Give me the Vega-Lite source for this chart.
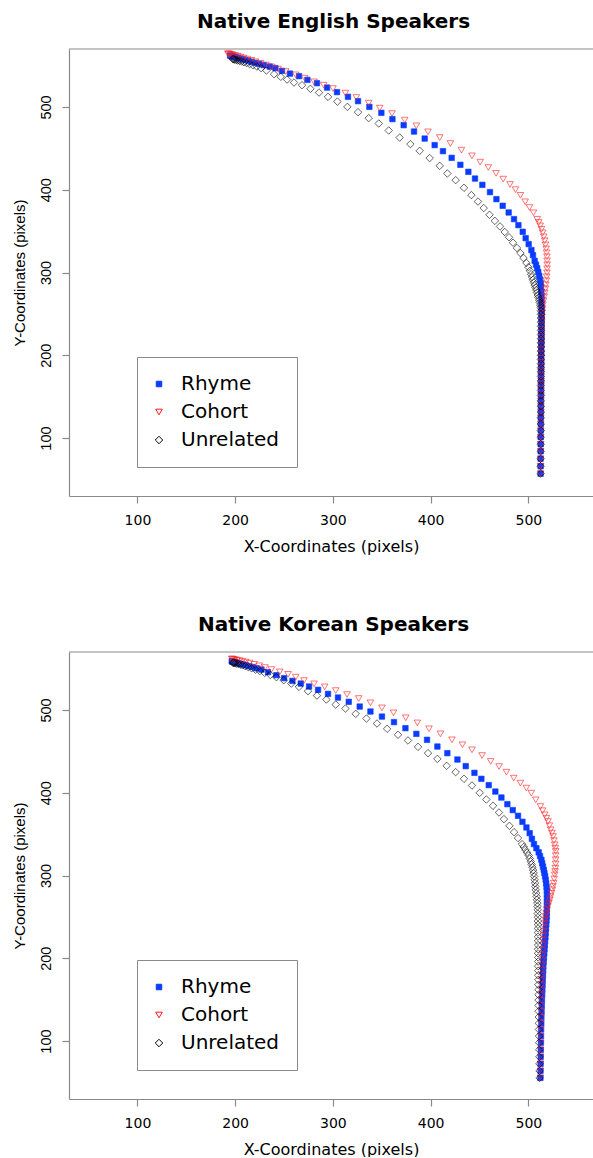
{
  "$schema": "https://vega.github.io/schema/vega-lite/v6.json",
  "padding": {"left": 12, "top": 12, "right": 0, "bottom": 0},
  "background": "white",
  "config": {
    "font": "DejaVu Sans",
    "view": {"stroke": null},
    "concat": {"spacing": 61},
    "axis": {"grid": false, "domainColor": "#8a8a8a", "domainWidth": 1.2, "tickColor": "#8a8a8a", "tickWidth": 1.2, "tickSize": 7, "labelColor": "#000000", "titleColor": "#000000", "titleFontWeight": "normal"},
    "legend": {"orient": "none", "legendX": 68, "legendY": 308, "title": null, "strokeColor": "#8a8a8a", "fillColor": "white", "padding": 17, "rowPadding": 8, "labelFont": "DejaVu Sans", "labelFontSize": 20, "labelOffset": 12, "symbolOffset": -5, "symbolStrokeWidth": 1},
    "title": {"fontSize": 20, "fontWeight": "bold", "font": "DejaVu Sans", "color": "#000000", "offset": 16}
  },
  "datasets": {
    "english": [
      {"series":"Rhyme","x":512.5,"y":57},{"series":"Rhyme","x":512.5,"y":66},{"series":"Rhyme","x":512.5,"y":75},{"series":"Rhyme","x":512.6,"y":84},{"series":"Rhyme","x":512.6,"y":92.5},{"series":"Rhyme","x":512.6,"y":101},{"series":"Rhyme","x":512.7,"y":109},{"series":"Rhyme","x":512.7,"y":117},{"series":"Rhyme","x":512.7,"y":124.5},{"series":"Rhyme","x":512.8,"y":131.5},{"series":"Rhyme","x":512.8,"y":138.5},{"series":"Rhyme","x":512.8,"y":145},{"series":"Rhyme","x":512.9,"y":151.5},{"series":"Rhyme","x":512.9,"y":157.5},{"series":"Rhyme","x":512.9,"y":163.5},{"series":"Rhyme","x":513,"y":169},{"series":"Rhyme","x":513,"y":174.5},{"series":"Rhyme","x":513,"y":179.5},{"series":"Rhyme","x":513,"y":184.5},{"series":"Rhyme","x":513.1,"y":189.5},{"series":"Rhyme","x":513.1,"y":194},{"series":"Rhyme","x":513.1,"y":198.5},{"series":"Rhyme","x":513.2,"y":203},{"series":"Rhyme","x":513.2,"y":207.5},{"series":"Rhyme","x":513.2,"y":212},{"series":"Rhyme","x":513.3,"y":216.5},{"series":"Rhyme","x":513.3,"y":221},{"series":"Rhyme","x":513.3,"y":225.5},{"series":"Rhyme","x":513.4,"y":230},{"series":"Rhyme","x":513.4,"y":234.5},{"series":"Rhyme","x":513.4,"y":239},{"series":"Rhyme","x":513.5,"y":243.5},{"series":"Rhyme","x":513.5,"y":248},{"series":"Rhyme","x":513.5,"y":252.5},{"series":"Rhyme","x":513.5,"y":257},{"series":"Rhyme","x":513.5,"y":262},{"series":"Rhyme","x":513.5,"y":267},{"series":"Rhyme","x":513.4,"y":272},{"series":"Rhyme","x":513.3,"y":277},
      {"series":"Rhyme","x":513.0,"y":282},{"series":"Rhyme","x":512.6,"y":287},{"series":"Rhyme","x":511.9,"y":291.5},{"series":"Rhyme","x":511.1,"y":296},{"series":"Rhyme","x":510.1,"y":300.5},{"series":"Rhyme","x":509.0,"y":305},{"series":"Rhyme","x":507.8,"y":309.5},{"series":"Rhyme","x":506.4,"y":314.1},{"series":"Rhyme","x":504.7,"y":321.0},{"series":"Rhyme","x":503.1,"y":327.1},{"series":"Rhyme","x":500.3,"y":334.3},{"series":"Rhyme","x":497.2,"y":341.5},{"series":"Rhyme","x":494.2,"y":349.2},{"series":"Rhyme","x":489.8,"y":357.2},{"series":"Rhyme","x":485.3,"y":364.5},{"series":"Rhyme","x":479.8,"y":372.5},{"series":"Rhyme","x":473.7,"y":380.6},{"series":"Rhyme","x":467.3,"y":388.6},{"series":"Rhyme","x":460.7,"y":397.1},{"series":"Rhyme","x":452.9,"y":405.9},{"series":"Rhyme","x":445.4,"y":413.5},{"series":"Rhyme","x":438.6,"y":421.6},{"series":"Rhyme","x":430.4,"y":430.1},{"series":"Rhyme","x":421.5,"y":438.5},{"series":"Rhyme","x":412.6,"y":446.6},{"series":"Rhyme","x":404.1,"y":453.9},{"series":"Rhyme","x":393.9,"y":461.8},{"series":"Rhyme","x":383.0,"y":470.3},{"series":"Rhyme","x":372.4,"y":478.0},{"series":"Rhyme","x":360.9,"y":485.3},{"series":"Rhyme","x":349.6,"y":492.9},{"series":"Rhyme","x":337.3,"y":500.1},{"series":"Rhyme","x":325.7,"y":507.0},{"series":"Rhyme","x":315.4,"y":512.2},{"series":"Rhyme","x":304.2,"y":517.9},{"series":"Rhyme","x":294.0,"y":523.4},{"series":"Rhyme","x":283.7,"y":528.7},{"series":"Rhyme","x":273.9,"y":532.7},{"series":"Rhyme","x":265.3,"y":537.2},{"series":"Rhyme","x":256.1,"y":540.3},{"series":"Rhyme","x":247.9,"y":543.6},{"series":"Rhyme","x":241.2,"y":546.9},{"series":"Rhyme","x":235.3,"y":548.8},{"series":"Rhyme","x":229.2,"y":550.5},
      {"series":"Rhyme","x":224.5,"y":552.0},{"series":"Rhyme","x":220.5,"y":553.3},{"series":"Rhyme","x":216.8,"y":554.5},{"series":"Rhyme","x":213.5,"y":555.6},{"series":"Rhyme","x":210.5,"y":556.6},{"series":"Rhyme","x":207.8,"y":557.5},{"series":"Rhyme","x":205.4,"y":558.3},{"series":"Rhyme","x":203.3,"y":559.0},{"series":"Rhyme","x":201.5,"y":559.6},{"series":"Rhyme","x":199.9,"y":560.2},{"series":"Rhyme","x":198.5,"y":560.7},{"series":"Rhyme","x":197.3,"y":561.1},{"series":"Rhyme","x":196.3,"y":561.5},{"series":"Rhyme","x":195.5,"y":561.8},{"series":"Rhyme","x":194.8,"y":562.1},
      {"series":"Cohort","x":512.5,"y":57},{"series":"Cohort","x":512.5,"y":66},{"series":"Cohort","x":512.5,"y":75},{"series":"Cohort","x":512.6,"y":84},{"series":"Cohort","x":512.6,"y":92.5},{"series":"Cohort","x":512.6,"y":101},{"series":"Cohort","x":512.7,"y":109},{"series":"Cohort","x":512.7,"y":117},{"series":"Cohort","x":512.7,"y":124.5},{"series":"Cohort","x":512.8,"y":131.5},{"series":"Cohort","x":512.8,"y":138.5},{"series":"Cohort","x":512.8,"y":145},{"series":"Cohort","x":512.9,"y":151.5},{"series":"Cohort","x":512.9,"y":157.5},{"series":"Cohort","x":512.9,"y":163.5},{"series":"Cohort","x":513,"y":169},{"series":"Cohort","x":513,"y":174.5},{"series":"Cohort","x":513,"y":180},{"series":"Cohort","x":513.1,"y":185.5},{"series":"Cohort","x":513.1,"y":191},{"series":"Cohort","x":513.2,"y":196.5},{"series":"Cohort","x":513.2,"y":202},{"series":"Cohort","x":513.3,"y":207.5},{"series":"Cohort","x":513.3,"y":213},{"series":"Cohort","x":513.4,"y":218.5},{"series":"Cohort","x":513.4,"y":224},{"series":"Cohort","x":513.5,"y":229.5},{"series":"Cohort","x":513.6,"y":235},{"series":"Cohort","x":513.7,"y":240.5},
      {"series":"Cohort","x":513.9,"y":246},{"series":"Cohort","x":514.2,"y":251.3},{"series":"Cohort","x":514.6,"y":256.2},{"series":"Cohort","x":515.0,"y":261.0},{"series":"Cohort","x":515.6,"y":265.8},{"series":"Cohort","x":516.2,"y":270.7},{"series":"Cohort","x":516.8,"y":275.5},{"series":"Cohort","x":517.4,"y":280.3},{"series":"Cohort","x":517.9,"y":285.2},{"series":"Cohort","x":518.4,"y":290.0},{"series":"Cohort","x":518.7,"y":294.8},{"series":"Cohort","x":519.0,"y":299.6},{"series":"Cohort","x":519.1,"y":304.5},{"series":"Cohort","x":519.2,"y":309.3},{"series":"Cohort","x":519.1,"y":314.1},{"series":"Cohort","x":519.0,"y":319.0},{"series":"Cohort","x":518.6,"y":323.8},{"series":"Cohort","x":518.2,"y":328.6},{"series":"Cohort","x":517.5,"y":333.4},{"series":"Cohort","x":516.7,"y":338.3},{"series":"Cohort","x":515.7,"y":343.1},{"series":"Cohort","x":514.6,"y":347.9},{"series":"Cohort","x":513.4,"y":352.2},{"series":"Cohort","x":512.1,"y":356.4},{"series":"Cohort","x":510.6,"y":360.4},{"series":"Cohort","x":509.0,"y":364.3},{"series":"Cohort","x":505.2,"y":372.1},{"series":"Cohort","x":501.1,"y":378.5},{"series":"Cohort","x":496.7,"y":385.4},{"series":"Cohort","x":491.9,"y":393.2},{"series":"Cohort","x":486.8,"y":400.1},{"series":"Cohort","x":481.2,"y":406.3},{"series":"Cohort","x":474.2,"y":412.8},{"series":"Cohort","x":466.9,"y":419.8},{"series":"Cohort","x":459.0,"y":426.8},{"series":"Cohort","x":450.7,"y":433.3},{"series":"Cohort","x":442.3,"y":440.9},{"series":"Cohort","x":431.5,"y":447.8},{"series":"Cohort","x":420.2,"y":455.8},{"series":"Cohort","x":409.3,"y":463.0},{"series":"Cohort","x":397.3,"y":469.9},{"series":"Cohort","x":385.4,"y":477.2},{"series":"Cohort","x":373.5,"y":484.1},{"series":"Cohort","x":360.5,"y":492.0},{"series":"Cohort","x":347.9,"y":498.6},{"series":"Cohort","x":336.6,"y":504.6},{"series":"Cohort","x":324.0,"y":511.4},{"series":"Cohort","x":312.8,"y":516.7},{"series":"Cohort","x":300.1,"y":522.2},{"series":"Cohort","x":290.6,"y":526.3},{"series":"Cohort","x":280.7,"y":530.3},{"series":"Cohort","x":271.1,"y":534.8},{"series":"Cohort","x":261.9,"y":538.8},{"series":"Cohort","x":251.7,"y":542.8},
      {"series":"Cohort","x":244,"y":545.8},{"series":"Cohort","x":237.5,"y":548.3},{"series":"Cohort","x":231.5,"y":550.6},{"series":"Cohort","x":226,"y":552.7},{"series":"Cohort","x":221,"y":554.6},{"series":"Cohort","x":216.5,"y":556.3},{"series":"Cohort","x":212.4,"y":557.8},{"series":"Cohort","x":208.7,"y":559.1},{"series":"Cohort","x":205.4,"y":560.3},{"series":"Cohort","x":202.5,"y":561.3},{"series":"Cohort","x":200,"y":562.1},{"series":"Cohort","x":197.9,"y":562.8},{"series":"Cohort","x":196.1,"y":563.4},{"series":"Cohort","x":194.6,"y":563.8},{"series":"Cohort","x":193.4,"y":564.1},{"series":"Cohort","x":192.5,"y":564.3},
      {"series":"Unrelated","x":512.5,"y":57},{"series":"Unrelated","x":512.5,"y":66},{"series":"Unrelated","x":512.5,"y":75},{"series":"Unrelated","x":512.6,"y":84},{"series":"Unrelated","x":512.6,"y":92.5},{"series":"Unrelated","x":512.6,"y":101},{"series":"Unrelated","x":512.7,"y":109},{"series":"Unrelated","x":512.7,"y":117},{"series":"Unrelated","x":512.7,"y":124.5},{"series":"Unrelated","x":512.8,"y":131.5},{"series":"Unrelated","x":512.8,"y":138.5},{"series":"Unrelated","x":512.8,"y":145},{"series":"Unrelated","x":512.8,"y":151.5},{"series":"Unrelated","x":512.8,"y":157.5},{"series":"Unrelated","x":512.8,"y":163.5},{"series":"Unrelated","x":512.8,"y":169},{"series":"Unrelated","x":512.8,"y":174.5},{"series":"Unrelated","x":512.8,"y":180},{"series":"Unrelated","x":512.8,"y":185},{"series":"Unrelated","x":512.8,"y":190},{"series":"Unrelated","x":512.8,"y":195},{"series":"Unrelated","x":512.8,"y":200},{"series":"Unrelated","x":512.8,"y":205},{"series":"Unrelated","x":512.8,"y":210},{"series":"Unrelated","x":512.8,"y":215},{"series":"Unrelated","x":512.8,"y":220},{"series":"Unrelated","x":512.8,"y":225},{"series":"Unrelated","x":512.8,"y":230},{"series":"Unrelated","x":512.8,"y":235},{"series":"Unrelated","x":512.8,"y":240},{"series":"Unrelated","x":512.8,"y":245},{"series":"Unrelated","x":512.8,"y":249.5},{"series":"Unrelated","x":512.7,"y":253.8},
      {"series":"Unrelated","x":512.5,"y":257.7},{"series":"Unrelated","x":512.1,"y":260.8},{"series":"Unrelated","x":511.6,"y":263.8},{"series":"Unrelated","x":511.0,"y":266.8},{"series":"Unrelated","x":510.4,"y":269.8},{"series":"Unrelated","x":509.6,"y":272.8},{"series":"Unrelated","x":508.8,"y":275.8},{"series":"Unrelated","x":508.1,"y":278.9},{"series":"Unrelated","x":507.3,"y":281.9},{"series":"Unrelated","x":506.4,"y":284.9},{"series":"Unrelated","x":505.5,"y":287.9},{"series":"Unrelated","x":504.6,"y":291.2},{"series":"Unrelated","x":503.7,"y":294.5},{"series":"Unrelated","x":502.8,"y":298},{"series":"Unrelated","x":501.6,"y":302.1},{"series":"Unrelated","x":500.0,"y":306.5},{"series":"Unrelated","x":498.0,"y":311.5},{"series":"Unrelated","x":495.0,"y":317.5},{"series":"Unrelated","x":491.8,"y":323.5},{"series":"Unrelated","x":488.3,"y":329.6},{"series":"Unrelated","x":484.3,"y":336.0},{"series":"Unrelated","x":480.2,"y":342.5},{"series":"Unrelated","x":475.8,"y":349.0},{"series":"Unrelated","x":471.0,"y":355.6},{"series":"Unrelated","x":465.7,"y":362.4},{"series":"Unrelated","x":460.2,"y":369.7},{"series":"Unrelated","x":454.3,"y":377.8},{"series":"Unrelated","x":448.4,"y":385.7},{"series":"Unrelated","x":441.7,"y":393.5},{"series":"Unrelated","x":434.1,"y":402.3},{"series":"Unrelated","x":425.6,"y":411.6},{"series":"Unrelated","x":417.1,"y":419.6},{"series":"Unrelated","x":409.3,"y":428.9},{"series":"Unrelated","x":399.0,"y":438.2},{"series":"Unrelated","x":388.8,"y":447.0},{"series":"Unrelated","x":379.3,"y":455.1},{"series":"Unrelated","x":368.3,"y":463.0},{"series":"Unrelated","x":357.1,"y":471.6},{"series":"Unrelated","x":346.9,"y":480.0},{"series":"Unrelated","x":336.6,"y":486.5},{"series":"Unrelated","x":325.7,"y":493.7},{"series":"Unrelated","x":314.8,"y":500.1},{"series":"Unrelated","x":304.6,"y":506.5},{"series":"Unrelated","x":295.0,"y":512.2},{"series":"Unrelated","x":285.8,"y":517.4},{"series":"Unrelated","x":277.0,"y":521.9},{"series":"Unrelated","x":268.4,"y":526.3},{"series":"Unrelated","x":260.2,"y":529.5},{"series":"Unrelated","x":253.1,"y":533.1},{"series":"Unrelated","x":246.6,"y":536.4},{"series":"Unrelated","x":239.8,"y":539.6},{"series":"Unrelated","x":232.0,"y":544.0},{"series":"Unrelated","x":226.5,"y":546.9},
      {"series":"Unrelated","x":222.2,"y":548.8},{"series":"Unrelated","x":218.3,"y":550.4},{"series":"Unrelated","x":214.8,"y":551.8},{"series":"Unrelated","x":211.7,"y":553},{"series":"Unrelated","x":209,"y":554},{"series":"Unrelated","x":206.6,"y":554.9},{"series":"Unrelated","x":204.5,"y":555.6},{"series":"Unrelated","x":202.7,"y":556.2},{"series":"Unrelated","x":201.2,"y":556.7},{"series":"Unrelated","x":199.9,"y":557.1},{"series":"Unrelated","x":198.9,"y":557.4},{"series":"Unrelated","x":198.1,"y":557.7},{"series":"Unrelated","x":197.5,"y":557.9}
    ],
    "korean": [
      {"series":"Rhyme","x":512.3,"y":55.5},{"series":"Rhyme","x":512.4,"y":64},{"series":"Rhyme","x":512.5,"y":72.5},{"series":"Rhyme","x":512.6,"y":81},{"series":"Rhyme","x":512.7,"y":89.5},{"series":"Rhyme","x":512.8,"y":98},{"series":"Rhyme","x":512.9,"y":106},{"series":"Rhyme","x":513.0,"y":114},{"series":"Rhyme","x":513.2,"y":121.5},{"series":"Rhyme","x":513.3,"y":129},{"series":"Rhyme","x":513.5,"y":136},{"series":"Rhyme","x":513.7,"y":143},{"series":"Rhyme","x":513.9,"y":149.5},{"series":"Rhyme","x":514.1,"y":156},{"series":"Rhyme","x":514.3,"y":162},{"series":"Rhyme","x":514.5,"y":168},{"series":"Rhyme","x":514.7,"y":174},{"series":"Rhyme","x":514.9,"y":179.5},{"series":"Rhyme","x":515.1,"y":185},{"series":"Rhyme","x":515.3,"y":190.5},{"series":"Rhyme","x":515.6,"y":196},{"series":"Rhyme","x":515.9,"y":201},{"series":"Rhyme","x":516.2,"y":206},{"series":"Rhyme","x":516.5,"y":211},{"series":"Rhyme","x":516.8,"y":216},{"series":"Rhyme","x":517.1,"y":221},{"series":"Rhyme","x":517.4,"y":226},{"series":"Rhyme","x":517.7,"y":231},{"series":"Rhyme","x":518.0,"y":236},{"series":"Rhyme","x":518.3,"y":241},{"series":"Rhyme","x":518.5,"y":246},{"series":"Rhyme","x":518.7,"y":250.5},{"series":"Rhyme","x":518.8,"y":255},{"series":"Rhyme","x":518.9,"y":259.5},{"series":"Rhyme","x":519.0,"y":264},{"series":"Rhyme","x":519.0,"y":268},
      {"series":"Rhyme","x":519.0,"y":272.5},{"series":"Rhyme","x":519.0,"y":277},{"series":"Rhyme","x":518.9,"y":281.5},{"series":"Rhyme","x":518.6,"y":286},{"series":"Rhyme","x":518.2,"y":290.5},{"series":"Rhyme","x":517.7,"y":294.8},{"series":"Rhyme","x":517.1,"y":299},{"series":"Rhyme","x":516.4,"y":303},{"series":"Rhyme","x":515.7,"y":306.9},{"series":"Rhyme","x":514.9,"y":310.8},{"series":"Rhyme","x":514.1,"y":314.8},{"series":"Rhyme","x":513.3,"y":319},{"series":"Rhyme","x":511.9,"y":323.5},{"series":"Rhyme","x":510.5,"y":328},{"series":"Rhyme","x":508.2,"y":333},{"series":"Rhyme","x":505.7,"y":338},{"series":"Rhyme","x":503.6,"y":344.3},{"series":"Rhyme","x":501.3,"y":351.2},{"series":"Rhyme","x":498.0,"y":358.0},{"series":"Rhyme","x":493.9,"y":364.9},{"series":"Rhyme","x":489.4,"y":372.1},{"series":"Rhyme","x":484.0,"y":379.0},{"series":"Rhyme","x":478.5,"y":386.2},{"series":"Rhyme","x":472.4,"y":394.2},{"series":"Rhyme","x":466.2,"y":401.4},{"series":"Rhyme","x":459.4,"y":409.2},{"series":"Rhyme","x":451.9,"y":416.8},{"series":"Rhyme","x":444.8,"y":424.0},{"series":"Rhyme","x":435.9,"y":432.1},{"series":"Rhyme","x":427.4,"y":440.1},{"series":"Rhyme","x":417.1,"y":447.8},{"series":"Rhyme","x":406.9,"y":455.8},{"series":"Rhyme","x":396.3,"y":463.9},{"series":"Rhyme","x":385.4,"y":471.1},{"series":"Rhyme","x":374.2,"y":478.0},{"series":"Rhyme","x":362.5,"y":485.3},{"series":"Rhyme","x":350.2,"y":492.0},{"series":"Rhyme","x":338.4,"y":498.1},{"series":"Rhyme","x":327.4,"y":504.1},{"series":"Rhyme","x":316.2,"y":509.8},{"series":"Rhyme","x":305.2,"y":515.0},{"series":"Rhyme","x":295.0,"y":519.4},{"series":"Rhyme","x":284.8,"y":524.3},{"series":"Rhyme","x":275.6,"y":528.3},{"series":"Rhyme","x":267.1,"y":531.9},{"series":"Rhyme","x":258.6,"y":535.1},{"series":"Rhyme","x":250.0,"y":538.4},{"series":"Rhyme","x":242.2,"y":542.0},{"series":"Rhyme","x":233.6,"y":545.6},{"series":"Rhyme","x":226.9,"y":548.8},
      {"series":"Rhyme","x":222.0,"y":550.4},{"series":"Rhyme","x":217.8,"y":551.8},{"series":"Rhyme","x":214.0,"y":553.0},{"series":"Rhyme","x":210.7,"y":554.1},{"series":"Rhyme","x":207.8,"y":555.0},{"series":"Rhyme","x":205.3,"y":555.8},{"series":"Rhyme","x":203.1,"y":556.5},{"series":"Rhyme","x":201.3,"y":557.1},{"series":"Rhyme","x":199.8,"y":557.6},{"series":"Rhyme","x":198.6,"y":558},{"series":"Rhyme","x":197.7,"y":558.3},{"series":"Rhyme","x":197.0,"y":558.6},{"series":"Rhyme","x":196.5,"y":558.8},
      {"series":"Cohort","x":512.3,"y":55.5},{"series":"Cohort","x":512.4,"y":64},{"series":"Cohort","x":512.4,"y":72.5},{"series":"Cohort","x":512.5,"y":81},{"series":"Cohort","x":512.5,"y":89.5},{"series":"Cohort","x":512.6,"y":98},{"series":"Cohort","x":512.6,"y":106},{"series":"Cohort","x":512.7,"y":114},{"series":"Cohort","x":512.8,"y":121.5},{"series":"Cohort","x":512.9,"y":129},{"series":"Cohort","x":513.0,"y":136},{"series":"Cohort","x":513.1,"y":143},{"series":"Cohort","x":513.2,"y":149.5},{"series":"Cohort","x":513.3,"y":156},{"series":"Cohort","x":513.4,"y":162},{"series":"Cohort","x":513.5,"y":168},{"series":"Cohort","x":513.6,"y":174},{"series":"Cohort","x":513.8,"y":180},{"series":"Cohort","x":514.0,"y":186},{"series":"Cohort","x":514.2,"y":192},{"series":"Cohort","x":514.4,"y":198},{"series":"Cohort","x":514.6,"y":204},{"series":"Cohort","x":514.8,"y":210},{"series":"Cohort","x":515.0,"y":216},{"series":"Cohort","x":515.2,"y":222},{"series":"Cohort","x":515.4,"y":227.5},{"series":"Cohort","x":515.7,"y":232.4},
      {"series":"Cohort","x":516.2,"y":237.5},{"series":"Cohort","x":516.7,"y":242.5},{"series":"Cohort","x":517.2,"y":246.5},{"series":"Cohort","x":517.7,"y":250.5},{"series":"Cohort","x":518.3,"y":254.5},{"series":"Cohort","x":519.0,"y":258.6},{"series":"Cohort","x":520.0,"y":262.6},{"series":"Cohort","x":521.1,"y":266.7},{"series":"Cohort","x":522.0,"y":270.6},{"series":"Cohort","x":522.8,"y":274.6},{"series":"Cohort","x":523.7,"y":278.6},{"series":"Cohort","x":524.5,"y":282.7},{"series":"Cohort","x":525.2,"y":286.7},{"series":"Cohort","x":525.9,"y":290.8},{"series":"Cohort","x":526.4,"y":295.8},{"series":"Cohort","x":526.9,"y":300.8},{"series":"Cohort","x":527.3,"y":304.8},{"series":"Cohort","x":527.6,"y":308.9},{"series":"Cohort","x":527.8,"y":314},{"series":"Cohort","x":527.9,"y":319.0},{"series":"Cohort","x":527.9,"y":324},{"series":"Cohort","x":527.9,"y":329.0},{"series":"Cohort","x":527.5,"y":333},{"series":"Cohort","x":526.9,"y":337.1},{"series":"Cohort","x":526.1,"y":342.1},{"series":"Cohort","x":525.2,"y":347.1},{"series":"Cohort","x":524.1,"y":351.2},{"series":"Cohort","x":522.8,"y":355.2},{"series":"Cohort","x":521.5,"y":360.2},{"series":"Cohort","x":520.1,"y":365.2},{"series":"Cohort","x":518.5,"y":369.2},{"series":"Cohort","x":516.7,"y":373.3},{"series":"Cohort","x":514.6,"y":378.3},{"series":"Cohort","x":512.3,"y":383.3},{"series":"Cohort","x":507.5,"y":391.4},{"series":"Cohort","x":503.0,"y":399.5},{"series":"Cohort","x":497.9,"y":405.6},{"series":"Cohort","x":491.8,"y":411.6},{"series":"Cohort","x":485.0,"y":417.6},{"series":"Cohort","x":477.5,"y":424.8},{"series":"Cohort","x":470,"y":431.6},{"series":"Cohort","x":461.4,"y":437.8},{"series":"Cohort","x":452.6,"y":444.9},{"series":"Cohort","x":442.3,"y":451.8},{"series":"Cohort","x":432.5,"y":457.9},{"series":"Cohort","x":421.8,"y":463.9},{"series":"Cohort","x":410.0,"y":471.1},{"series":"Cohort","x":398.3,"y":477.2},{"series":"Cohort","x":386.4,"y":484.3},{"series":"Cohort","x":374.5,"y":490.5},{"series":"Cohort","x":362.0,"y":496.5},{"series":"Cohort","x":350.2,"y":502.5},{"series":"Cohort","x":338.4,"y":508.6},{"series":"Cohort","x":326.4,"y":513.8},{"series":"Cohort","x":314.4,"y":518.6},{"series":"Cohort","x":302.9,"y":523.4},{"series":"Cohort","x":291.6,"y":527.9},{"series":"Cohort","x":280.7,"y":531.5},{"series":"Cohort","x":270.4,"y":535.5},{"series":"Cohort","x":262,"y":539.6},{"series":"Cohort","x":254.1,"y":543.0},{"series":"Cohort","x":245.6,"y":546.0},{"series":"Cohort","x":237.1,"y":548.8},
      {"series":"Cohort","x":230.5,"y":551.2},{"series":"Cohort","x":224.6,"y":553.3},{"series":"Cohort","x":219.4,"y":555.1},{"series":"Cohort","x":214.8,"y":556.6},{"series":"Cohort","x":210.8,"y":557.8},{"series":"Cohort","x":207.3,"y":558.8},{"series":"Cohort","x":204.3,"y":559.6},{"series":"Cohort","x":201.8,"y":560.2},{"series":"Cohort","x":199.8,"y":560.7},{"series":"Cohort","x":198.3,"y":561.1},{"series":"Cohort","x":197.2,"y":561.4},{"series":"Cohort","x":196.5,"y":561.6},
      {"series":"Unrelated","x":511.5,"y":55.5},{"series":"Unrelated","x":511.4,"y":64},{"series":"Unrelated","x":511.3,"y":72.5},{"series":"Unrelated","x":511.2,"y":81},{"series":"Unrelated","x":511.1,"y":89.5},{"series":"Unrelated","x":511.0,"y":98},{"series":"Unrelated","x":510.9,"y":106},{"series":"Unrelated","x":510.8,"y":114},{"series":"Unrelated","x":510.7,"y":121.5},{"series":"Unrelated","x":510.6,"y":129},{"series":"Unrelated","x":510.5,"y":136},{"series":"Unrelated","x":510.4,"y":143},{"series":"Unrelated","x":510.4,"y":149.5},{"series":"Unrelated","x":510.3,"y":156},{"series":"Unrelated","x":510.3,"y":162},{"series":"Unrelated","x":510.2,"y":168},{"series":"Unrelated","x":510.2,"y":174},{"series":"Unrelated","x":510.1,"y":179.5},{"series":"Unrelated","x":510.1,"y":185},{"series":"Unrelated","x":510.0,"y":190.5},{"series":"Unrelated","x":510.0,"y":196},{"series":"Unrelated","x":510.0,"y":201},{"series":"Unrelated","x":509.9,"y":206},{"series":"Unrelated","x":509.9,"y":211},{"series":"Unrelated","x":509.9,"y":216},{"series":"Unrelated","x":509.9,"y":221},{"series":"Unrelated","x":509.8,"y":226},{"series":"Unrelated","x":509.8,"y":231},{"series":"Unrelated","x":509.8,"y":236},{"series":"Unrelated","x":509.8,"y":240.5},{"series":"Unrelated","x":509.7,"y":245},{"series":"Unrelated","x":509.7,"y":249.5},{"series":"Unrelated","x":509.6,"y":254},{"series":"Unrelated","x":509.5,"y":258.6},
      {"series":"Unrelated","x":509.3,"y":262.6},{"series":"Unrelated","x":509.1,"y":266.6},{"series":"Unrelated","x":508.8,"y":270.6},{"series":"Unrelated","x":508.4,"y":274.6},{"series":"Unrelated","x":508.0,"y":278.6},{"series":"Unrelated","x":507.5,"y":282.7},{"series":"Unrelated","x":507.1,"y":286.7},{"series":"Unrelated","x":506.8,"y":290.8},{"series":"Unrelated","x":506.4,"y":294.8},{"series":"Unrelated","x":505.9,"y":298.9},{"series":"Unrelated","x":505.4,"y":302.9},{"series":"Unrelated","x":504.8,"y":306.5},{"series":"Unrelated","x":504.1,"y":310.1},{"series":"Unrelated","x":503.3,"y":313.5},{"series":"Unrelated","x":502.4,"y":316.9},{"series":"Unrelated","x":501.4,"y":320.5},{"series":"Unrelated","x":500.3,"y":324.2},{"series":"Unrelated","x":498.7,"y":327.6},{"series":"Unrelated","x":496.9,"y":331.0},{"series":"Unrelated","x":495.2,"y":334.5},{"series":"Unrelated","x":493.5,"y":337.9},{"series":"Unrelated","x":489.4,"y":345.2},{"series":"Unrelated","x":485.3,"y":352.4},{"series":"Unrelated","x":480.6,"y":360.0},{"series":"Unrelated","x":475.0,"y":368.1},{"series":"Unrelated","x":469.9,"y":376.1},{"series":"Unrelated","x":463.8,"y":384.2},{"series":"Unrelated","x":457.0,"y":391.8},{"series":"Unrelated","x":450.2,"y":399.9},{"series":"Unrelated","x":442.3,"y":408.7},{"series":"Unrelated","x":434.1,"y":416.8},{"series":"Unrelated","x":425.6,"y":424.9},{"series":"Unrelated","x":416.4,"y":432.5},{"series":"Unrelated","x":406.9,"y":440.9},{"series":"Unrelated","x":397.3,"y":447.8},{"series":"Unrelated","x":387.1,"y":455.4},{"series":"Unrelated","x":376.8,"y":463.1},{"series":"Unrelated","x":366.6,"y":470.0},{"series":"Unrelated","x":355.5,"y":477.2},{"series":"Unrelated","x":345.1,"y":483.6},{"series":"Unrelated","x":334.3,"y":489.6},{"series":"Unrelated","x":323.3,"y":495.3},{"series":"Unrelated","x":312.8,"y":501.7},{"series":"Unrelated","x":302.9,"y":506.5},{"series":"Unrelated","x":293.3,"y":512.6},{"series":"Unrelated","x":283.7,"y":517.4},{"series":"Unrelated","x":274.5,"y":522.7},{"series":"Unrelated","x":265.3,"y":527.9},{"series":"Unrelated","x":257.5,"y":531.9},{"series":"Unrelated","x":249.7,"y":535.9},{"series":"Unrelated","x":242.2,"y":539.6},{"series":"Unrelated","x":236,"y":542.3},
      {"series":"Unrelated","x":230.2,"y":544.8},{"series":"Unrelated","x":225.2,"y":546.9},{"series":"Unrelated","x":220.8,"y":548.7},{"series":"Unrelated","x":216.9,"y":550.3},{"series":"Unrelated","x":213.4,"y":551.7},{"series":"Unrelated","x":210.3,"y":552.9},{"series":"Unrelated","x":207.6,"y":553.9},{"series":"Unrelated","x":205.2,"y":554.8},{"series":"Unrelated","x":203.2,"y":555.5},{"series":"Unrelated","x":201.5,"y":556.0},{"series":"Unrelated","x":200.1,"y":556.4},{"series":"Unrelated","x":199.0,"y":556.7},{"series":"Unrelated","x":198.2,"y":556.9},{"series":"Unrelated","x":197.7,"y":557.0}
    ]
  },
  "vconcat": [
    {
      "title": {"text": "Native English Speakers", "dx": 2.5},
      "width": 524,
      "height": 447,
      "layer": [
        {
          "data": {"name": "english"},
          "mark": {"type": "point", "strokeWidth": 1, "strokeOpacity": 0.6, "opacity": 1},
          "encoding": {
            "x": {"field": "x", "type": "quantitative", "scale": {"domain": [30, 566.1], "nice": false, "zero": false}, "axis": {"values": [100, 200, 300, 400, 500], "title": "X-Coordinates (pixels)", "labelFont": "DejaVu Sans", "labelFontSize": 14, "labelPadding": 10, "titleFont": "DejaVu Sans", "titleFontSize": 16, "titlePadding": 11}},
            "y": {"field": "y", "type": "quantitative", "scale": {"domain": [30, 570], "nice": false, "zero": false}, "axis": {"values": [100, 200, 300, 400, 500], "title": "Y-Coordinates (pixels)", "labelAngle": 270, "labelAlign": "center", "labelBaseline": "bottom", "labelFont": "Liberation Sans", "labelFontSize": 14.5, "labelPadding": 9, "titleFont": "Liberation Sans", "titleFontSize": 15, "titlePadding": 11}},
            "shape": {"field": "series", "type": "nominal", "sort": null, "scale": {"domain": ["Rhyme", "Cohort", "Unrelated"], "range": ["square", "triangle-down", "diamond"]}, "legend": {"encode": {"symbols": {"size": {"signal": "datum.value === 'Rhyme' ? 90 : (datum.value === 'Cohort' ? 180 : 130)"}}}}},
            "fill": {"field": "series", "type": "nominal", "sort": null, "scale": {"domain": ["Rhyme", "Cohort", "Unrelated"], "range": ["#0a3cff", "transparent", "transparent"]}, "legend": {"encode": {"symbols": {"size": {"signal": "datum.value === 'Rhyme' ? 90 : (datum.value === 'Cohort' ? 180 : 130)"}}}}},
            "stroke": {"field": "series", "type": "nominal", "sort": null, "scale": {"domain": ["Rhyme", "Cohort", "Unrelated"], "range": ["#0a3cff", "#ff1a1a", "#000000"]}, "legend": {"encode": {"symbols": {"size": {"signal": "datum.value === 'Rhyme' ? 90 : (datum.value === 'Cohort' ? 180 : 130)"}}}}},
            "size": {"field": "series", "type": "nominal", "sort": null, "scale": {"domain": ["Rhyme", "Cohort", "Unrelated"], "range": [30, 56, 36]}, "legend": {"encode": {"symbols": {"size": {"signal": "datum.value === 'Rhyme' ? 90 : (datum.value === 'Cohort' ? 180 : 130)"}}}}}
          }
        },
        {
          "data": {"values": [{}]},
          "mark": {"type": "rule", "color": "#8a8a8a", "strokeWidth": 1.2},
          "encoding": {"y": {"datum": 570}}
        }
      ]
    },
    {
      "title": {"text": "Native Korean Speakers", "dx": 2.5},
      "width": 524,
      "height": 447,
      "layer": [
        {
          "data": {"name": "korean"},
          "mark": {"type": "point", "strokeWidth": 1, "strokeOpacity": 0.6, "opacity": 1},
          "encoding": {
            "x": {"field": "x", "type": "quantitative", "scale": {"domain": [30, 566.1], "nice": false, "zero": false}, "axis": {"values": [100, 200, 300, 400, 500], "title": "X-Coordinates (pixels)", "labelFont": "DejaVu Sans", "labelFontSize": 14, "labelPadding": 10, "titleFont": "DejaVu Sans", "titleFontSize": 16, "titlePadding": 11}},
            "y": {"field": "y", "type": "quantitative", "scale": {"domain": [30, 570], "nice": false, "zero": false}, "axis": {"values": [100, 200, 300, 400, 500], "title": "Y-Coordinates (pixels)", "labelAngle": 270, "labelAlign": "center", "labelBaseline": "bottom", "labelFont": "Liberation Sans", "labelFontSize": 14.5, "labelPadding": 9, "titleFont": "Liberation Sans", "titleFontSize": 15, "titlePadding": 11}},
            "shape": {"field": "series", "type": "nominal", "sort": null, "scale": {"domain": ["Rhyme", "Cohort", "Unrelated"], "range": ["square", "triangle-down", "diamond"]}, "legend": {"encode": {"symbols": {"size": {"signal": "datum.value === 'Rhyme' ? 90 : (datum.value === 'Cohort' ? 180 : 130)"}}}}},
            "fill": {"field": "series", "type": "nominal", "sort": null, "scale": {"domain": ["Rhyme", "Cohort", "Unrelated"], "range": ["#0a3cff", "transparent", "transparent"]}, "legend": {"encode": {"symbols": {"size": {"signal": "datum.value === 'Rhyme' ? 90 : (datum.value === 'Cohort' ? 180 : 130)"}}}}},
            "stroke": {"field": "series", "type": "nominal", "sort": null, "scale": {"domain": ["Rhyme", "Cohort", "Unrelated"], "range": ["#0a3cff", "#ff1a1a", "#000000"]}, "legend": {"encode": {"symbols": {"size": {"signal": "datum.value === 'Rhyme' ? 90 : (datum.value === 'Cohort' ? 180 : 130)"}}}}},
            "size": {"field": "series", "type": "nominal", "sort": null, "scale": {"domain": ["Rhyme", "Cohort", "Unrelated"], "range": [30, 56, 36]}, "legend": {"encode": {"symbols": {"size": {"signal": "datum.value === 'Rhyme' ? 90 : (datum.value === 'Cohort' ? 180 : 130)"}}}}}
          }
        },
        {
          "data": {"values": [{}]},
          "mark": {"type": "rule", "color": "#8a8a8a", "strokeWidth": 1.2},
          "encoding": {"y": {"datum": 570}}
        }
      ]
    }
  ],
  "resolve": {
    "legend": {"shape": "independent", "fill": "independent", "stroke": "independent", "size": "independent"}
  }
}
